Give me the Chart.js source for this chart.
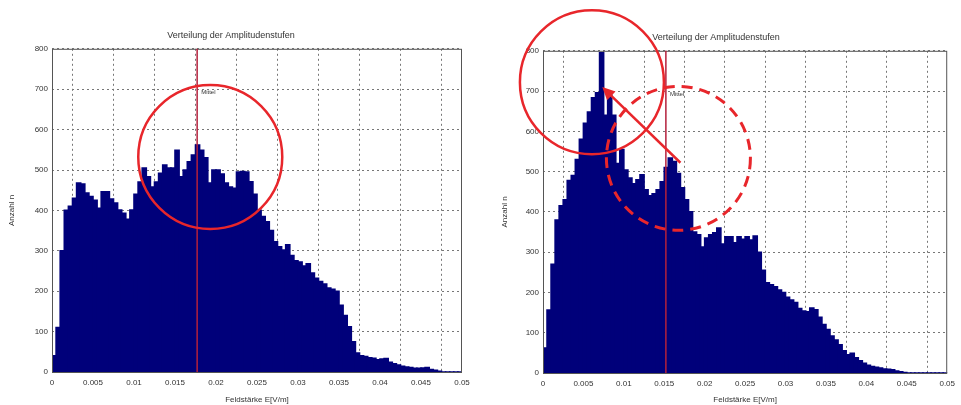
<!DOCTYPE html>
<html>
<head>
<meta charset="utf-8">
<script src="https://cdn.jsdelivr.net/npm/chart.js@4/dist/chart.umd.min.js"></script>
<style>
  html, body { margin: 0; padding: 0; background: #fff; }
  #wrap { position: relative; width: 961px; height: 405px; }
  .box { position: absolute; top: 0; height: 405px; }
</style>
</head>
<body>
<div id="wrap">
  <div class="box" style="left:0;width:480px"><canvas id="linksChart"></canvas></div>
  <div class="box" style="left:480px;width:481px"><canvas id="rechtsChart"></canvas></div>
</div>
<script>
// Histogramm-Daten (Anzahl je Klasse, Klassenbreite 0.0005 V/m)
const binWidth = 0.0005;
const linksWerte = [
  40, 110, 300, 400, 410, 430, 468, 465, 443, 434,
  425, 405, 446, 446, 428, 418, 401, 393, 378, 401,
  440, 470, 505, 483, 458, 470, 492, 512, 505, 505,
  549, 483, 500, 520, 537, 562, 549, 530, 468, 500,
  500, 490, 468, 458, 455, 495, 496, 495, 471, 440,
  400, 385, 372, 350, 322, 310, 302, 315, 288, 275,
  272, 262, 268, 245, 232, 224, 218, 208, 205, 200,
  165, 140, 112, 75, 47, 40, 38, 35, 34, 30,
  32, 33, 24, 20, 17, 14, 12, 11, 9, 9,
  10, 11, 6, 4, 2, 0, 0, 0, 0, 0
];
const rechtsWerte = [
  62, 156, 270, 380, 415, 430, 478, 490, 530, 580,
  620, 648, 683, 696, 795, 640, 690, 640, 520, 555,
  504, 484, 470, 480, 492, 455, 440, 445, 455, 475,
  510, 534, 525, 495, 460, 430, 400, 350, 343, 313,
  335, 343, 348, 360, 320, 338, 338, 323, 338, 332,
  338, 330, 340, 300, 255, 224, 219, 214, 206, 200,
  188, 181, 175, 160, 154, 152, 161, 157, 138, 120,
  108, 92, 82, 70, 55, 45, 49, 38, 30, 24,
  19, 16, 14, 12, 10, 9, 8, 5, 3, 1,
  0, 0, 0, 0, 0, 0, 0, 0, 0, 0
];
const xTickLabels = ['0', '0.005', '0.01', '0.015', '0.02', '0.025', '0.03', '0.035', '0.04', '0.045', '0.05'];
const yTickLabels = ['0', '100', '200', '300', '400', '500', '600', '700', '800'];

// Mittelwerte (rote Linie)
const linksMittel = 0.0177;
const rechtsMittel = 0.0152;

// Markierungen (Datenkoordinaten)
const linksKreise = [{ x: 0.0193, y: 532, dashed: false }];
const rechtsKreise = [
  { x: 0.00605, y: 722, dashed: false },
  { x: 0.01675, y: 533, dashed: true }
];
const rechtsPfeil = { from: [0.0170, 522], to: [0.00733, 710] };

const ROT = '#e8262b';
const BALKEN = '#00007a';

function toPoints(werte) {
  return werte.map((v, i) => ({ x: (i + 0.5) * binWidth, y: v }));
}

// Rahmen + Mittel-Linie + Kreise
const markPlugin = {
  id: 'marks',
  afterDatasetsDraw(chart, args, opts) {
    const ctx = chart.ctx;
    const a = chart.chartArea;
    const xs = chart.scales.x, ys = chart.scales.y;
    ctx.save();
    // Box wie bei MATLAB
    ctx.strokeStyle = '#555';
    ctx.lineWidth = 1;
    ctx.strokeRect(a.left + 0.5, a.top + 0.5, a.right - a.left - 1, a.bottom - a.top);
    // Mittelwert-Linie
    const mx = xs.getPixelForValue(opts.mittel);
    ctx.strokeStyle = '#b4203c';
    ctx.lineWidth = 1.5;
    ctx.beginPath();
    ctx.moveTo(mx, a.top);
    ctx.lineTo(mx, a.bottom);
    ctx.stroke();
    ctx.fillStyle = '#333';
    ctx.font = '6px "Liberation Sans", Arial, sans-serif';
    ctx.textBaseline = 'middle';
    ctx.fillText('Mittel', mx + 4, ys.getPixelForValue(700) + 3);
    // Kreise
    ctx.strokeStyle = ROT;
    (opts.kreise || []).forEach(k => {
      ctx.lineWidth = k.dashed ? 3 : 2.5;
      ctx.setLineDash(k.dashed ? [11, 7] : []);
      ctx.beginPath();
      ctx.arc(xs.getPixelForValue(k.x), ys.getPixelForValue(k.y), 72, 0, Math.PI * 2);
      ctx.stroke();
    });
    ctx.setLineDash([]);
    if (opts.pfeil) {
      const x1 = xs.getPixelForValue(opts.pfeil.from[0]), y1 = ys.getPixelForValue(opts.pfeil.from[1]);
      const x2 = xs.getPixelForValue(opts.pfeil.to[0]), y2 = ys.getPixelForValue(opts.pfeil.to[1]);
      const ang = Math.atan2(y2 - y1, x2 - x1);
      ctx.lineWidth = 2.5;
      ctx.beginPath();
      ctx.moveTo(x1, y1);
      ctx.lineTo(x2 - 8 * Math.cos(ang), y2 - 8 * Math.sin(ang));
      ctx.stroke();
      ctx.fillStyle = ROT;
      ctx.beginPath();
      ctx.moveTo(x2, y2);
      ctx.lineTo(x2 - 14 * Math.cos(ang - 0.45), y2 - 14 * Math.sin(ang - 0.45));
      ctx.lineTo(x2 - 14 * Math.cos(ang + 0.45), y2 - 14 * Math.sin(ang + 0.45));
      ctx.closePath();
      ctx.fill();
    }
    ctx.restore();
  }
};

function makeChart(id, werte, geo, marks) {
  const font = { family: '"Liberation Sans", Arial, sans-serif', size: 8 };
  return new Chart(document.getElementById(id), {
    type: 'bar',
    data: {
      datasets: [{
        data: toPoints(werte),
        backgroundColor: BALKEN,
        borderWidth: 0,
        inflateAmount: 0.8,
        barPercentage: 1,
        categoryPercentage: 1
      }]
    },
    options: {
      responsive: true,
      maintainAspectRatio: false,
      animation: false,
      layout: { padding: { left: 0, right: geo.right, top: 0, bottom: 0 } },
      plugins: {
        legend: { display: false },
        tooltip: { enabled: false },
        title: {
          display: true,
          text: 'Verteilung der Amplitudenstufen',
          color: '#333',
          font: { family: font.family, size: 9, weight: 'normal' },
          padding: { top: geo.titleTop, bottom: 8 }
        },
        marks: marks
      },
      scales: {
        x: {
          type: 'linear',
          min: 0,
          max: 0.05,
          offset: false,
          afterFit: s => { s.height = geo.xHeight; },
          grid: { color: '#777', drawTicks: false },
          border: { display: false, dash: [2, 3] },
          ticks: {
            stepSize: 0.005,
            padding: 6,
            color: '#333',
            font: font,
            maxRotation: 0,
            autoSkip: false,
            callback: (v, i) => xTickLabels[i]
          },
          title: {
            display: true,
            text: 'Feldstärke E[V/m]',
            color: '#333',
            font: font,
            padding: { top: 2, bottom: 0 }
          }
        },
        y: {
          min: 0,
          max: 800,
          afterFit: s => { s.width = geo.yWidth; },
          grid: { color: '#777', drawTicks: false },
          border: { display: false, dash: [2, 3] },
          ticks: {
            stepSize: 100,
            padding: 4,
            color: '#333',
            font: font,
            callback: (v, i) => yTickLabels[i]
          },
          title: {
            display: true,
            text: 'Anzahl n',
            color: '#333',
            font: font,
            padding: { top: geo.yTitlePad, bottom: 0 }
          }
        }
      }
    },
    plugins: [markPlugin]
  });
}

makeChart('linksChart', linksWerte,
  { right: 18, titleTop: 30, xHeight: 33, yWidth: 52, yTitlePad: 7 },
  { mittel: linksMittel, kreise: linksKreise });
makeChart('rechtsChart', rechtsWerte,
  { right: 9, titleTop: 32, xHeight: 32, yWidth: 63, yTitlePad: 20 },
  { mittel: rechtsMittel, kreise: rechtsKreise, pfeil: rechtsPfeil });
</script>
</body>
</html>
